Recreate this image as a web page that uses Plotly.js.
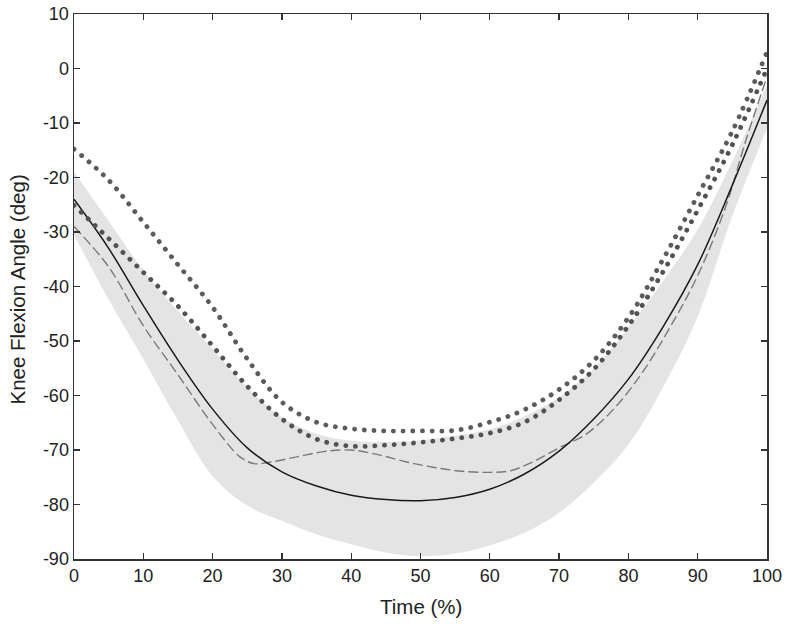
<!DOCTYPE html>
<html>
<head>
<meta charset="utf-8">
<script src="https://cdn.plot.ly/plotly-3.0.1.min.js"></script>
<style>
html,body{margin:0;padding:0;background:#fff;}
#chart{width:788px;height:624px;}
.scatterlayer .trace:nth-child(5) path.js-line,
.scatterlayer .trace:nth-child(6) path.js-line{stroke-linecap:round;}
</style>
</head>
<body>
<div id="chart"></div>
<script>
// Time axis (% of cycle) shared by most series
const timePct = [0,5,10,15,20,25,30,35,40,45,50,55,60,65,70,75,80,85,90,95,100];

// Grey band (normal range)
const bandLower = [-30.5,-42.4,-53.3,-64.6,-74.8,-80.2,-83,-85.5,-87.3,-88.8,-89.5,-89,-87.5,-85.2,-81.5,-76,-69,-58.5,-45.5,-27,-11];
const bandUpper = [-19,-28,-37,-44.5,-51.5,-58.5,-64,-67,-68.3,-68.5,-68.2,-67.4,-66.2,-63.8,-60.3,-55,-47.5,-39,-29.5,-17,-3];

// Solid black curve
const solidCurve = [-24,-33,-43.5,-53.5,-62.5,-69.6,-74,-76.6,-78.3,-79.1,-79.3,-78.7,-77.2,-74.4,-70.2,-64.3,-57,-47.4,-36,-21.4,-5.8];

// Dashed grey curve (own time samples)
const dashedTime  = [0,5,10,15,20,24,26,28,32,36,40,44,48,52,56,60,63,66,70,74,78,82,86,90,94,97,100];
const dashedCurve = [-29,-36.4,-47.2,-56.2,-65.3,-71.3,-72.5,-72.3,-71.3,-70.3,-70,-70.9,-72.2,-73.2,-73.9,-74.1,-73.8,-72.3,-69.6,-67,-62.3,-55.8,-47.5,-38,-25.5,-13,-1.5];

// Two dotted curves
const dottedUpper = [-14.8,-20.5,-28.2,-36,-43.8,-53.3,-61.2,-64.9,-66.1,-66.5,-66.5,-66.4,-64.9,-62.6,-58.9,-53.6,-45.7,-35,-23.3,-11.5,3];
const dottedLower = [-25.1,-31.2,-37.4,-43.6,-50.9,-58.3,-64.3,-68,-69.3,-69.1,-68.6,-67.9,-66.9,-64.9,-60.8,-55.2,-47.2,-37.3,-26,-14,0];

// Axis ticks and titles
const xTicks = [0,10,20,30,40,50,60,70,80,90,100];
const yTicks = [-90,-80,-70,-60,-50,-40,-30,-20,-10,0,10];
const xTitle = 'Time (%)';
const yTitle = 'Knee Flexion Angle (deg)';

const font = 'Liberation Sans, Arial, Helvetica, sans-serif';

const traces = [
  {x: timePct, y: bandLower, mode: 'lines', line: {width: 0, shape: 'spline', smoothing: 1}, hoverinfo: 'skip', showlegend: false},
  {x: timePct, y: bandUpper, mode: 'lines', fill: 'tonexty', fillcolor: '#e4e4e4', line: {width: 0, shape: 'spline', smoothing: 1}, hoverinfo: 'skip', showlegend: false},
  {x: dashedTime, y: dashedCurve, mode: 'lines', line: {color: '#7a7a7a', width: 1.4, dash: '10px,4px', shape: 'spline', smoothing: 1}, showlegend: false},
  {x: timePct, y: solidCurve, mode: 'lines', line: {color: '#1a1a1a', width: 1.5, shape: 'spline', smoothing: 1}, showlegend: false},
  {x: timePct, y: dottedUpper, mode: 'lines', line: {color: '#5c5c5c', width: 4.8, dash: '0.1px,9.6px', shape: 'spline', smoothing: 1}, showlegend: false},
  {x: timePct, y: dottedLower, mode: 'lines', line: {color: '#525252', width: 4.8, dash: '0.1px,9.6px', shape: 'spline', smoothing: 1}, showlegend: false}
];

const axisCommon = {
  showgrid: false, zeroline: false, showline: true, linecolor: '#333', linewidth: 1.5,
  mirror: 'allticks', ticks: 'inside', ticklen: 6, tickwidth: 1.3, tickcolor: '#333',
  tickfont: {family: font, size: 18, color: '#222'}
};

const layout = {
  width: 788, height: 624,
  margin: {l: 74, r: 21, t: 14, b: 65},
  paper_bgcolor: '#fff', plot_bgcolor: '#fff',
  showlegend: false,
  xaxis: Object.assign({}, axisCommon, {range: [0, 100], tickvals: xTicks, ticktext: xTicks.map(String)}),
  yaxis: Object.assign({}, axisCommon, {range: [-90, 10], tickvals: yTicks, ticktext: yTicks.map(String)}),
  annotations: [
    {text: xTitle, xref: 'paper', yref: 'paper', x: 0.5, y: 0, xanchor: 'center', yanchor: 'middle', yshift: -47, showarrow: false,
     font: {family: font, size: 20.5, color: '#222'}},
    {text: yTitle, xref: 'paper', yref: 'paper', x: 0, y: 0.5, xanchor: 'center', yanchor: 'middle', xshift: -57, yshift: -3, textangle: -90, showarrow: false,
     font: {family: font, size: 20.5, color: '#222'}}
  ]
};

Plotly.newPlot('chart', traces, layout, {displayModeBar: false, staticPlot: true});
</script>
</body>
</html>
